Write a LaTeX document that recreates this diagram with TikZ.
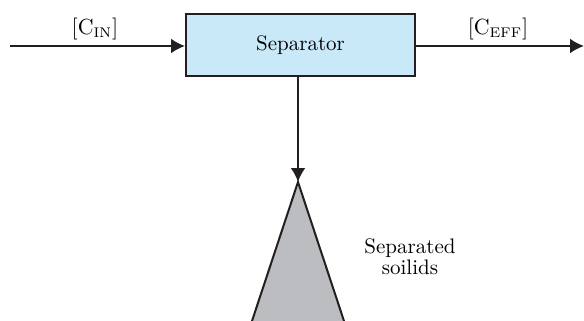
\documentclass[tikz,border=0pt]{standalone}
\usetikzlibrary{arrows.meta}
\definecolor{boxblue}{HTML}{C9E9F8}
\definecolor{pilegray}{HTML}{BCBDC0}
\definecolor{inkblack}{HTML}{231F20}
\tikzset{
  flow/.style={draw=inkblack,line width=1pt,-{Latex[length=7pt,width=7.5pt]}},
  sepbox/.style={draw=inkblack,line width=1pt,fill=boxblue,minimum width=114.5pt,minimum height=31pt,inner sep=0pt},
  lbl/.style={font=\fontsize{10.5}{10.5}\selectfont,inner sep=0pt}
}
\begin{document}
\begin{tikzpicture}[x=0.5pt,y=-0.5pt]
\useasboundingbox (0,0) rectangle (584,321);
%\draw[step=20,gray,very thin,dashed] (0,0) grid (584,321);
\node[sepbox,lbl] (sep) at (300.5,45) {Separator};
\coordinate (in) at (10,46);
\coordinate (out) at (584,46);
\coordinate (pile) at (298,182);
% separated solids heap
\draw[inkblack,line width=1pt,fill=pilegray] (pile) -- (251,324) -- (345,324) -- cycle;
\draw[flow] (in) -- (sep.west |- in);
\draw[flow] (sep.east |- out) -- (out);
\draw[flow] (sep.south -| pile) -- (pile);
\node[lbl] (cin) at (95,29) {$[\mathrm{C}_{\mathrm{IN}}]$};
\node[lbl] (ceff) at (498,29) {$[\mathrm{C}_{\mathrm{EFF}}]$};
\node[lbl,align=center] (solids) at (410,257) {Separated\\soilids};
\end{tikzpicture}
\end{document}
